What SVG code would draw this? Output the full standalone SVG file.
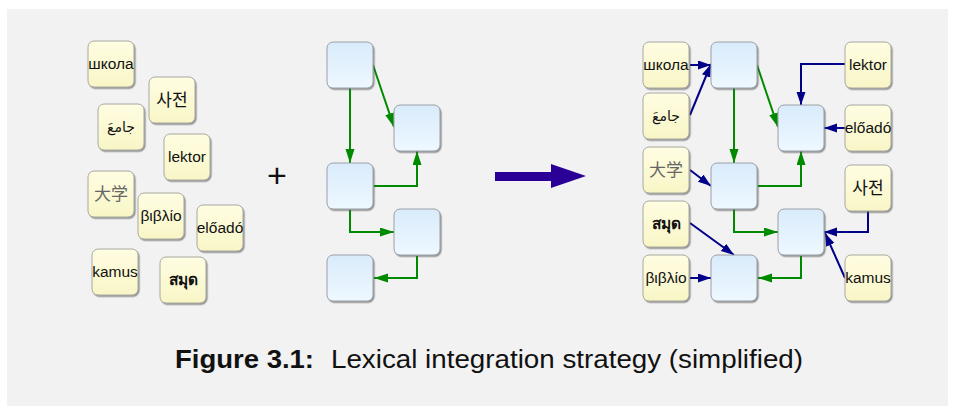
<svg xmlns="http://www.w3.org/2000/svg" width="957" height="410" viewBox="0 0 957 410">
<defs>
<linearGradient id="gCard" x1="0" y1="0" x2="0" y2="1">
<stop offset="0" stop-color="#fffde2"/>
<stop offset="1" stop-color="#f8f6c6"/>
</linearGradient>
<linearGradient id="gNode" x1="0" y1="0" x2="0" y2="1">
<stop offset="0" stop-color="#d9ebfb"/>
<stop offset="1" stop-color="#eef8ff"/>
</linearGradient>
<filter id="sh" x="-20%" y="-20%" width="150%" height="150%">
<feDropShadow dx="1.2" dy="1.5" stdDeviation="0.7" flood-color="#555" flood-opacity="0.6"/>
</filter>
<marker id="ag" markerUnits="userSpaceOnUse" markerWidth="15" markerHeight="10" refX="14" refY="4.5" orient="auto">
<path d="M0,0 L14,4.5 L0,9 z" fill="#008a00"/>
</marker>
<marker id="ab" markerUnits="userSpaceOnUse" markerWidth="15" markerHeight="10" refX="13" refY="4.5" orient="auto">
<path d="M0,0 L13,4.5 L0,9 z" fill="#000088"/>
</marker>
<style>
.card{fill:url(#gCard);stroke:#a8a8a0;stroke-width:1;filter:url(#sh)}
.node{fill:url(#gNode);stroke:#9aa0a8;stroke-width:1;filter:url(#sh)}
.t{font-family:"Liberation Sans","DejaVu Sans","Noto Sans CJK KR",sans-serif;font-size:15.5px;fill:#111;text-anchor:middle}
.ar{font-family:"DejaVu Sans","Noto Sans",sans-serif;font-size:14px;fill:#111;text-anchor:middle}
.cjk{font-family:"Noto Sans CJK SC","Noto Sans CJK KR",sans-serif;font-size:17px;text-anchor:middle}
.g{fill:none;stroke:#008a00;stroke-width:2;marker-end:url(#ag)}
.b{fill:none;stroke:#000088;stroke-width:2;marker-end:url(#ab)}
</style>
</defs>
<rect x="7" y="9" width="941" height="397" fill="#f2f2f2"/>

<g id="left-words">
<g id="l-shkola"><rect class="card" x="88" y="41" width="46" height="46" rx="6"/><text class="t" x="111" y="69">школа</text></g>
<g id="l-sajeon"><rect class="card" x="149" y="77" width="46" height="46" rx="6"/><text class="cjk" x="172" y="106" fill="#111">사전</text></g>
<g id="l-jami"><rect class="card" x="98" y="104" width="46" height="46" rx="6"/><text class="ar" x="121" y="132">جامعَ</text></g>
<g id="l-lektor"><rect class="card" x="164" y="134" width="46" height="46" rx="6"/><text class="t" x="187" y="162">lektor</text></g>
<g id="l-daxue"><rect class="card" x="88" y="171" width="46" height="46" rx="6"/><text class="cjk" x="111" y="200" fill="#666">大学</text></g>
<g id="l-biblio"><rect class="card" x="138" y="193" width="46" height="46" rx="6"/><text class="t" x="161" y="221">βιβλίο</text></g>
<g id="l-eloado"><rect class="card" x="197" y="205" width="46" height="46" rx="6"/><text class="t" x="220" y="233">előadó</text></g>
<g id="l-kamus"><rect class="card" x="92" y="249" width="46" height="46" rx="6"/><text class="t" x="115" y="277">kamus</text></g>
<g id="l-samut"><rect class="card" x="160" y="257" width="46" height="46" rx="6"/><text class="t" x="183" y="285" font-weight="bold">สมุด</text></g>
</g>

<text x="277" y="187" font-family="Liberation Sans, sans-serif" font-size="34" fill="#111" text-anchor="middle">+</text>

<g id="connectors">
<path class="g" d="M373,65 L394,127"/>
<path class="g" d="M350,88 V163"/>
<path class="g" d="M374,186 H417 V151"/>
<path class="g" d="M350,210 V232 H394"/>
<path class="g" d="M417,256 V278 H374"/>

<path class="g" d="M757,65 L778,127"/>
<path class="g" d="M734,88 V163"/>
<path class="g" d="M758,186 H801 V151"/>
<path class="g" d="M734,209 V232 H778"/>
<path class="g" d="M801,256 V278 H758"/>

<path class="b" d="M690,65 H711"/>
<path class="b" d="M690,115 L711,64"/>
<path class="b" d="M690,170 L711,186"/>
<path class="b" d="M690,223 L734,255"/>
<path class="b" d="M690,278 H711"/>
<path class="b" d="M845,64 H801 V105"/>
<path class="b" d="M845,128 H824"/>
<path class="b" d="M868,211 V232 H824"/>
<path class="b" d="M845,278 L825,233"/>
</g>

<g id="mid-graph">
<g id="m-a"><rect class="node" x="327" y="42" width="46" height="46" rx="6"/></g>
<g id="m-b"><rect class="node" x="394" y="105" width="46" height="46" rx="6"/></g>
<g id="m-c"><rect class="node" x="327" y="163" width="46" height="46" rx="6"/></g>
<g id="m-d"><rect class="node" x="394" y="209" width="46" height="46" rx="6"/></g>
<g id="m-e"><rect class="node" x="327" y="255" width="46" height="46" rx="6"/></g>
</g>

<polygon id="big-arrow" points="495,172 551,172 551,164 586,176 551,188 551,181 495,181" fill="#2a0096"/>

<g id="right-graph">
<g id="r-a"><rect class="node" x="711" y="42" width="46" height="46" rx="6"/></g>
<g id="r-c"><rect class="node" x="711" y="163" width="46" height="46" rx="6"/></g>
<g id="r-e"><rect class="node" x="711" y="255" width="46" height="46" rx="6"/></g>
<g id="r-b"><rect class="node" x="778" y="105" width="46" height="46" rx="6"/></g>
<g id="r-d"><rect class="node" x="778" y="209" width="46" height="46" rx="6"/></g>

<g id="r-shkola"><rect class="card" x="643" y="42" width="46" height="46" rx="6"/><text class="t" x="666" y="70">школа</text></g>
<g id="r-jami"><rect class="card" x="643" y="93" width="46" height="46" rx="6"/><text class="ar" x="666" y="121">جامعَ</text></g>
<g id="r-daxue"><rect class="card" x="643" y="147" width="46" height="46" rx="6"/><text class="cjk" x="666" y="176" fill="#666">大学</text></g>
<g id="r-samut"><rect class="card" x="643" y="201" width="46" height="46" rx="6"/><text class="t" x="666" y="229" font-weight="bold">สมุด</text></g>
<g id="r-biblio"><rect class="card" x="643" y="255" width="46" height="46" rx="6"/><text class="t" x="666" y="283">βιβλίο</text></g>
<g id="r-lektor"><rect class="card" x="845" y="42" width="46" height="46" rx="6"/><text class="t" x="868" y="70">lektor</text></g>
<g id="r-eloado"><rect class="card" x="845" y="105" width="46" height="46" rx="6"/><text class="t" x="868" y="133">előadó</text></g>
<g id="r-sajeon"><rect class="card" x="845" y="165" width="46" height="46" rx="6"/><text class="cjk" x="868" y="194" fill="#111">사전</text></g>
<g id="r-kamus"><rect class="card" x="845" y="255" width="46" height="46" rx="6"/><text class="t" x="868" y="283">kamus</text></g>
</g>

<g id="caption" font-family="Liberation Sans, sans-serif" font-size="25" fill="#111">
<text x="175" y="368" font-weight="bold" textLength="139" lengthAdjust="spacingAndGlyphs">Figure 3.1:</text>
<text x="331" y="368" textLength="472" lengthAdjust="spacingAndGlyphs">Lexical integration strategy (simplified)</text>
</g>
</svg>
